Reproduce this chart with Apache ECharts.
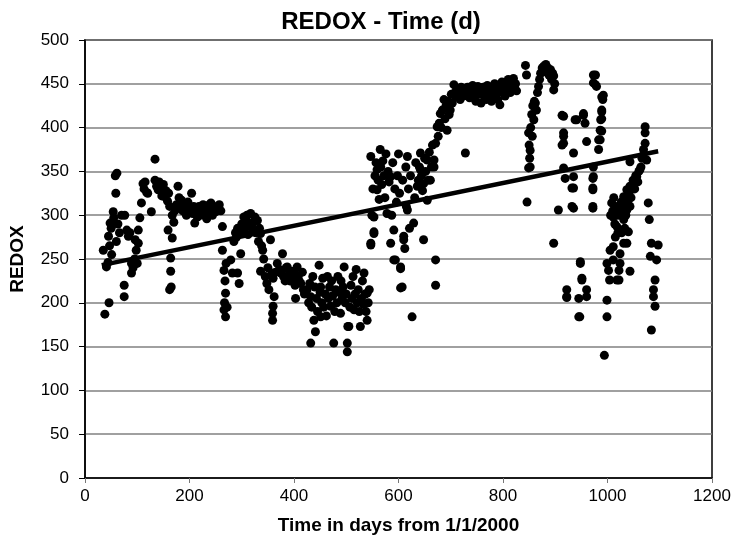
<!DOCTYPE html>
<html>
<head>
<meta charset="utf-8">
<script src="https://cdn.jsdelivr.net/npm/echarts@6/dist/echarts.min.js"></script>
<style>html,body{margin:0;padding:0;background:#fff}#c{width:736px;height:543px}</style>
</head>
<body>
<div id="c"></div>
<script>
var xTicks = [0, 200, 400, 600, 800, 1000, 1200];
var yTicks = [0, 50, 100, 150, 200, 250, 300, 350, 400, 450, 500];
var trendDays = [32, 1097];
var trendValues = [243, 373];

var segA = [[38,187],[46,200],[35,260],[41,241],[44,246],[51,255],[45,276],[48,291],[54,304],[59,325],[61,348],[58,345],[50,285],[47,265],[55,297],[75,220],[75,207],[80,283],[76,300],[83,276],[89,234],[89,245],[92,240],[96,272],[102,268],[102,283],[105,297],[108,314],[111,336],[113,330],[115,338],[118,326],[120,325],[70,300],[66,280],[60,270],[63,290],[86,280],[98,260],[95,250],[100,245]];
var segB = [[127,304],[134,364],[134,340],[137,333],[140,329],[142,338],[145,330],[147,322],[150,335],[153,321],[155,328],[158,316],[160,325],[162,310],[164,251],[164,236],[162,215],[165,218],[159,283],[167,274],[167,300],[170,292],[172,305],[175,312],[178,333],[180,320],[183,310],[185,317],[187,305],[190,312],[191,306],[194,300],[197,315],[200,308],[204,325],[206,302],[208,310],[210,291],[212,305],[215,298],[218,310],[220,300],[223,306],[226,312],[228,300],[230,308],[233,296],[236,305],[238,312],[241,314],[244,300],[247,308],[250,304],[253,310],[257,312],[260,305]];
var segC = [[263,287],[263,260],[266,237],[269,211],[269,184],[266,192],[267,200],[268,225],[270,245],[272,195],[279,249],[282,234],[285,270],[288,280],[290,275],[292,234],[292,285],[295,222],[298,256],[300,290],[302,280],[304,298],[306,286],[308,295],[310,300],[312,278],[314,290],[317,302],[320,285],[322,292],[325,298],[327,280],[330,294],[332,270],[334,285],[336,279],[338,265],[340,260],[336,236],[342,250]];
var segD = [[345,230],[348,222],[350,240],[352,215],[355,272],[358,234],[360,228],[362,207],[359,188],[359,180],[360,196],[365,235],[368,245],[372,238],[375,234],[378,256],[380,230],[383,225],[385,240],[387,241],[390,232],[392,225],[395,236],[398,228],[400,234],[402,220],[403,205],[406,241],[408,230],[410,225],[413,222],[416,235],[418,215]];
var segE = [[420,210],[425,215],[428,200],[430,222],[432,207],[434,195],[436,230],[438,180],[440,218],[441,167],[432,154],[443,205],[445,190],[448,243],[450,212],[451,184],[451,218],[453,200],[455,228],[457,195],[460,210],[462,185],[464,230],[466,205],[468,218],[470,196],[472,225],[474,208],[476,154],[478,190],[480,215],[482,200],[484,230],[486,212],[489,188],[490,225],[492,205],[494,218],[496,241],[498,200],[500,210],[502,154],[502,144],[503,173],[505,173],[507,195],[509,220],[511,205],[513,230],[515,192],[517,210],[519,238],[521,200],[523,215],[525,190],[527,173],[529,205],[531,225],[533,198],[534,234],[536,210],[538,190],[540,211],[540,180],[542,200],[544,215]];
var segF = [[547,367],[547,268],[547,266],[549,300],[551,330],[553,279],[553,298],[553,281],[555,345],[557,360],[559,352],[559,329],[561,340],[563,318],[565,375],[566,355],[568,335],[570,362],[572,345],[574,320],[576,370],[578,302],[580,350],[582,338],[585,344],[585,268],[587,300],[589,360],[591,283],[591,249],[593,330],[594,249],[596,315],[598,345],[600,370],[602,325],[604,241],[604,239],[604,217],[607,218],[608,340],[610,272],[610,276],[612,262],[614,355],[615,310],[617,306],[617,367],[619,330],[621,285],[623,345],[626,184],[629,291],[631,320],[633,360],[636,333],[638,340],[640,355],[642,352],[642,371],[644,345],[646,328],[648,272],[648,336],[650,365],[652,350],[655,317],[655,363],[657,340],[659,372],[661,340],[663,355],[665,380],[668,363],[668,355],[671,249],[671,220],[671,382],[674,401],[676,390],[678,405],[680,416]];
var segG = [[682,400],[684,420],[687,432],[689,410],[691,425],[693,397],[695,430],[697,415],[699,420],[701,438],[703,428],[706,449],[708,440],[710,435],[712,445],[714,438],[716,442],[718,432],[720,446],[722,440],[724,436],[726,444],[728,371],[730,438],[732,446],[734,440],[736,434],[738,445],[740,440],[742,448],[744,437],[746,443],[748,430],[750,441],[752,447],[754,438],[756,444],[758,428],[760,440],[762,446],[764,436],[766,442],[768,432],[770,448],[772,440],[774,436],[776,444],[778,430],[780,446],[782,440],[784,450],[786,437],[788,445],[790,432],[792,448],[794,426],[796,442],[798,452],[800,440],[802,446],[804,436],[806,450],[808,443],[810,455],[812,448],[814,440],[816,452],[818,446],[820,456],[822,448],[824,450],[826,442]];
var segH = [[843,471],[845,460],[846,315],[849,394],[849,354],[850,380],[851,365],[852,374],[852,355],[853,400],[855,415],[856,390],[857,425],[859,409],[860,430],[862,428],[864,420],[866,440],[868,447],[870,455],[872,462],[875,468],[878,470],[880,465],[882,472],[884,463],[886,468],[888,460],[891,466],[893,455],[895,462],[897,459],[897,443],[899,450]];
var segI = [[897,268],[906,306],[913,414],[913,380],[916,413],[916,394],[916,382],[916,390],[916,354],[919,342],[922,215],[922,206],[922,207],[932,331],[932,310],[935,371],[935,344],[935,331],[935,308],[938,409],[941,409],[945,205],[945,184],[947,184],[948,247],[948,245],[951,228],[951,226],[954,414],[954,416],[957,405],[960,384],[960,215],[960,207],[972,342],[972,331],[972,310],[972,329],[972,308],[973,460],[973,451],[973,355],[973,344],[977,460],[977,449],[979,447],[983,386],[983,375],[986,397],[986,386],[987,409],[989,420],[989,435],[989,418],[989,396],[989,410],[991,432],[992,437]];
var segJ = [[994,140],[999,245],[999,203],[999,184],[1002,237],[1004,226],[1005,260],[1008,314],[1011,298],[1011,264],[1011,249],[1018,287],[1018,226],[1020,280],[1022,237],[1022,226],[1024,306],[1024,256],[1024,245],[1031,321],[1031,295],[1031,268],[1037,329],[1037,306],[1037,268],[1040,281],[1043,333],[1043,310],[1043,236],[1043,361],[1050,336],[1056,344],[1062,352],[1069,375],[1072,401],[1072,394],[1072,382],[1075,363],[1078,314],[1080,295],[1082,253],[1084,268],[1084,169],[1088,215],[1088,207],[1091,226],[1091,196],[1094,249],[1097,266],[1010,305],[1014,290],[1016,310],[1020,300],[1026,315],[1028,300],[1030,310],[1033,320],[1035,300],[1039,315],[1041,325],[1045,320],[1047,330],[1049,340],[1052,330],[1054,345],[1058,338],[1060,350],[1064,355],[1066,365],[1068,368],[1015,275],[1027,280],[1033,285],[1006,300],[1012,320]];

var points = [].concat(segA, segB, segC, segD, segE, segF, segG, segH, segI, segJ);
var trend = trendDays.map(function (d, i) { return [d, trendValues[i]]; });

var chart = echarts.init(document.getElementById('c'), null, {renderer: 'canvas'});
var font = 'Liberation Sans, Arial, sans-serif';
chart.setOption({
  animation: false,
  backgroundColor: '#fff',
  title: {
    text: 'REDOX - Time (d)',
    left: 376, top: 5, textAlign: 'center',
    textStyle: {fontFamily: font, fontSize: 24, fontWeight: 'bold', color: '#000'}
  },
  grid: {left: 84, right: 24, top: 40, bottom: 65, show: true, borderColor: '#000', borderWidth: 1.5, backgroundColor: 'transparent'},
  xAxis: {
    type: 'value', min: xTicks[0], max: xTicks[xTicks.length - 1], interval: 200,
    name: 'Time in days from 1/1/2000', nameLocation: 'middle', nameGap: 38,
    nameTextStyle: {fontFamily: font, fontSize: 19, fontWeight: 'bold', color: '#000'},
    axisLine: {lineStyle: {color: '#000', width: 1.5}},
    axisTick: {show: true, length: 5, lineStyle: {color: '#777'}},
    axisLabel: {fontFamily: font, fontSize: 17, color: '#000', margin: 10, formatter: function (v) { return String(v); }},
    splitLine: {show: false}
  },
  yAxis: {
    type: 'value', min: yTicks[0], max: yTicks[yTicks.length - 1], interval: 50,
    name: 'REDOX', nameLocation: 'middle', nameGap: 58, nameRotate: 90,
    nameTextStyle: {fontFamily: font, fontSize: 19, fontWeight: 'bold', color: '#000'},
    axisLine: {show: true, lineStyle: {color: '#000', width: 1.5}},
    axisTick: {show: true, inside: false, length: 6, lineStyle: {color: '#000'}},
    axisLabel: {fontFamily: font, fontSize: 17, color: '#000', margin: 16, formatter: function (v) { return String(v); }},
    splitLine: {show: true, lineStyle: {color: '#808080', width: 1.5}}
  },
  series: [
    {type: 'scatter', data: points, symbol: 'circle', symbolSize: 9, itemStyle: {color: '#000', opacity: 1}, z: 2},
    {type: 'line', data: trend, symbol: 'none', lineStyle: {color: '#000', width: 4.5}, z: 3}
  ]
});
</script>
</body>
</html>
